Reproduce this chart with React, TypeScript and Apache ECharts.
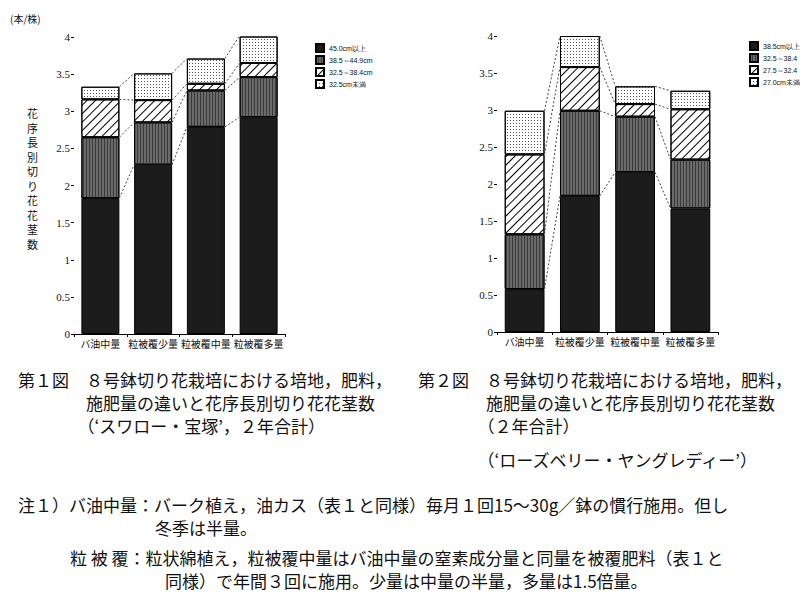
import React, { useEffect, useRef } from "react";
import * as echarts from "echarts";

const categories = ["バ油中量", "粒被覆少量", "粒被覆中量", "粒被覆多量"];
const yTicks = [0, 0.5, 1, 1.5, 2, 2.5, 3, 3.5, 4];

const legend1 = ["45.0cm以上", "38.5～44.9cm", "32.5～38.4cm", "32.5cm未満"];
const fig1Long = [1.83, 2.28, 2.79, 2.92];
const fig1Mid = [0.82, 0.57, 0.49, 0.54];
const fig1Short = [0.51, 0.3, 0.09, 0.19];
const fig1Shortest = [0.17, 0.36, 0.34, 0.37];

const legend2 = ["38.5cm以上", "32.5～38.4", "27.5～32.4", "27.0cm未満"];
const fig2Long = [0.58, 1.84, 2.16, 1.67];
const fig2Mid = [0.74, 1.15, 0.75, 0.66];
const fig2Short = [1.08, 0.59, 0.17, 0.68];
const fig2Shortest = [0.59, 0.42, 0.24, 0.25];

const caption1 = [
  "第１図　８号鉢切り花栽培における培地，肥料，",
  "　　　　施肥量の違いと花序長別切り花花茎数",
  "　　　　（‘スワロー・宝塚’，２年合計）",
];
const caption2 = [
  "第２図　８号鉢切り花栽培における培地，肥料，",
  "　　　　施肥量の違いと花序長別切り花花茎数",
  "　　　　（２年合計）",
  "　　　　（‘ローズベリー・ヤングレディー’）",
];
const notes = [
  "注１）バ油中量：バーク植え，油カス（表１と同様）毎月１回15～30g／鉢の慣行施用。但し",
  "冬季は半量。",
  "粒 被 覆：粒状綿植え，粒被覆中量はバ油中量の窒素成分量と同量を被覆肥料（表１と",
  "同様）で年間３回に施用。少量は中量の半量，多量は1.5倍量。",
];

const BAR_RATIO = 0.72;

const segStyles = [
  { color: "#1c1c1c", borderColor: "#000", borderWidth: 1 },
  {
    color: "#6a6a6a",
    borderColor: "#000",
    borderWidth: 1,
    decal: { symbol: "rect", color: "#3a3a3a", dashArrayX: [10, 0], dashArrayY: [1, 1.5], rotation: Math.PI / 2, symbolSize: 1 },
  },
  {
    color: "#ffffff",
    borderColor: "#000",
    borderWidth: 1,
    decal: { symbol: "rect", color: "#000", dashArrayX: [10, 0], dashArrayY: [1, 4.5], rotation: -Math.PI / 4, symbolSize: 1 },
  },
  {
    color: "#ffffff",
    borderColor: "#000",
    borderWidth: 1,
    decal: { symbol: "rect", color: "#555", dashArrayX: [0.8, 1.8], dashArrayY: [0.8, 1.8], symbolSize: 1 },
  },
];

function buildSeries(names: string[], segs: number[][], gi: number) {
  const series: any[] = segs.map((data, k) => ({
    name: names[k],
    type: "bar",
    stack: "s" + gi,
    xAxisIndex: gi,
    yAxisIndex: gi,
    barWidth: Math.round(BAR_RATIO * 100) + "%",
    data,
    itemStyle: segStyles[k],
  }));
  const cum: number[][] = [];
  segs.forEach((arr, k) => {
    cum.push(arr.map((v, i) => (k === 0 ? v : cum[k - 1][i] + v)));
  });
  const connData: number[][] = [];
  cum.forEach((level) => {
    for (let i = 0; i < level.length - 1; i++) connData.push([i, level[i], level[i + 1]]);
  });
  series.push({
    type: "custom",
    xAxisIndex: gi,
    yAxisIndex: gi,
    silent: true,
    encode: { x: 0, y: 1 },
    data: connData,
    renderItem: (params: any, api: any) => {
      const i = api.value(0);
      const p1 = api.coord([i, api.value(1)]);
      const p2 = api.coord([i + 1, api.value(2)]);
      const half = (api.size([1, 0])[0] * BAR_RATIO) / 2;
      return {
        type: "line",
        shape: { x1: p1[0] + half, y1: p1[1], x2: p2[0] - half, y2: p2[1] },
        style: { stroke: "#444", lineWidth: 1, lineDash: [2, 2] },
      };
    },
    z: 3,
  });
  return series;
}

function textEl(text: string, x: number, y: number, size: number, extra: any = {}) {
  return {
    type: "text",
    x,
    y,
    style: {
      text,
      fontSize: size,
      fontFamily: "Noto Sans CJK JP",
      fill: "#111",
      ...extra,
    },
  };
}

export default function App() {
  const ref = useRef<HTMLDivElement>(null);
  useEffect(() => {
    const chart = echarts.init(ref.current!, null, { renderer: "svg" });
    const axisCommon = {
      axisLine: { lineStyle: { color: "#000", width: 1 } },
    };
    const xAxis = (gi: number) => ({
      type: "category",
      gridIndex: gi,
      data: categories,
      ...axisCommon,
      axisTick: { show: true, length: 3, lineStyle: { color: "#000" } },
      axisLabel: { interval: 0, fontSize: 10, color: "#111", fontFamily: "Noto Sans CJK JP", margin: 4 },
    });
    const yAxis = (gi: number) => ({
      type: "value",
      gridIndex: gi,
      min: yTicks[0],
      max: yTicks[yTicks.length - 1],
      interval: 0.5,
      ...axisCommon,
      axisTick: { show: true, length: 3, lineStyle: { color: "#000" } },
      splitLine: { show: false },
      axisLabel: { fontSize: 11, color: "#111", fontFamily: "Liberation Serif", margin: 4 },
    });
    const legendCommon = {
      orient: "vertical",
      itemWidth: 8,
      itemHeight: 8,
      itemGap: 2,
      icon: "rect",
      textStyle: { fontSize: 7, color: "#111", fontFamily: "Liberation Sans" },
      selectedMode: false,
    };
    const graphics: any[] = [];
    graphics.push(textEl("(本/株)", 10, 13, 10));
    graphics.push(
      textEl("花\n序\n長\n別\n切\nり\n花\n花\n茎\n数", 27, 106, 11, { lineHeight: 14.5 })
    );
    caption1.forEach((t, i) => graphics.push(textEl(t, 18, 371 + i * 23, 17)));
    caption2.forEach((t, i) => graphics.push(textEl(t, 418, 371 + i * 23 + (i === 3 ? 11 : 0), 17)));
    graphics.push(textEl(notes[0], 18, 496, 17));
    graphics.push(textEl(notes[1], 155, 519, 17));
    graphics.push(textEl(notes[2], 70, 549, 17));
    graphics.push(textEl(notes[3], 165, 572, 17));

    chart.setOption({
      animation: false,
      backgroundColor: "#fff",
      grid: [
        { left: 74, top: 37, width: 211, height: 297 },
        { left: 497, top: 36, width: 221, height: 296 },
      ],
      xAxis: [xAxis(0), xAxis(1)],
      yAxis: [yAxis(0), yAxis(1)],
      legend: [
        { ...legendCommon, left: 310, top: 38, data: legend1 },
        { ...legendCommon, left: 744, top: 36, data: legend2 },
      ],
      series: [
        ...buildSeries(legend1, [fig1Long, fig1Mid, fig1Short, fig1Shortest], 0),
        ...buildSeries(legend2, [fig2Long, fig2Mid, fig2Short, fig2Shortest], 1),
      ],
      graphic: graphics,
    });
    return () => chart.dispose();
  }, []);
  return (
    <div
      ref={ref}
      style={{ position: "absolute", left: 0, top: 0, width: 806, height: 607 }}
    />
  );
}
